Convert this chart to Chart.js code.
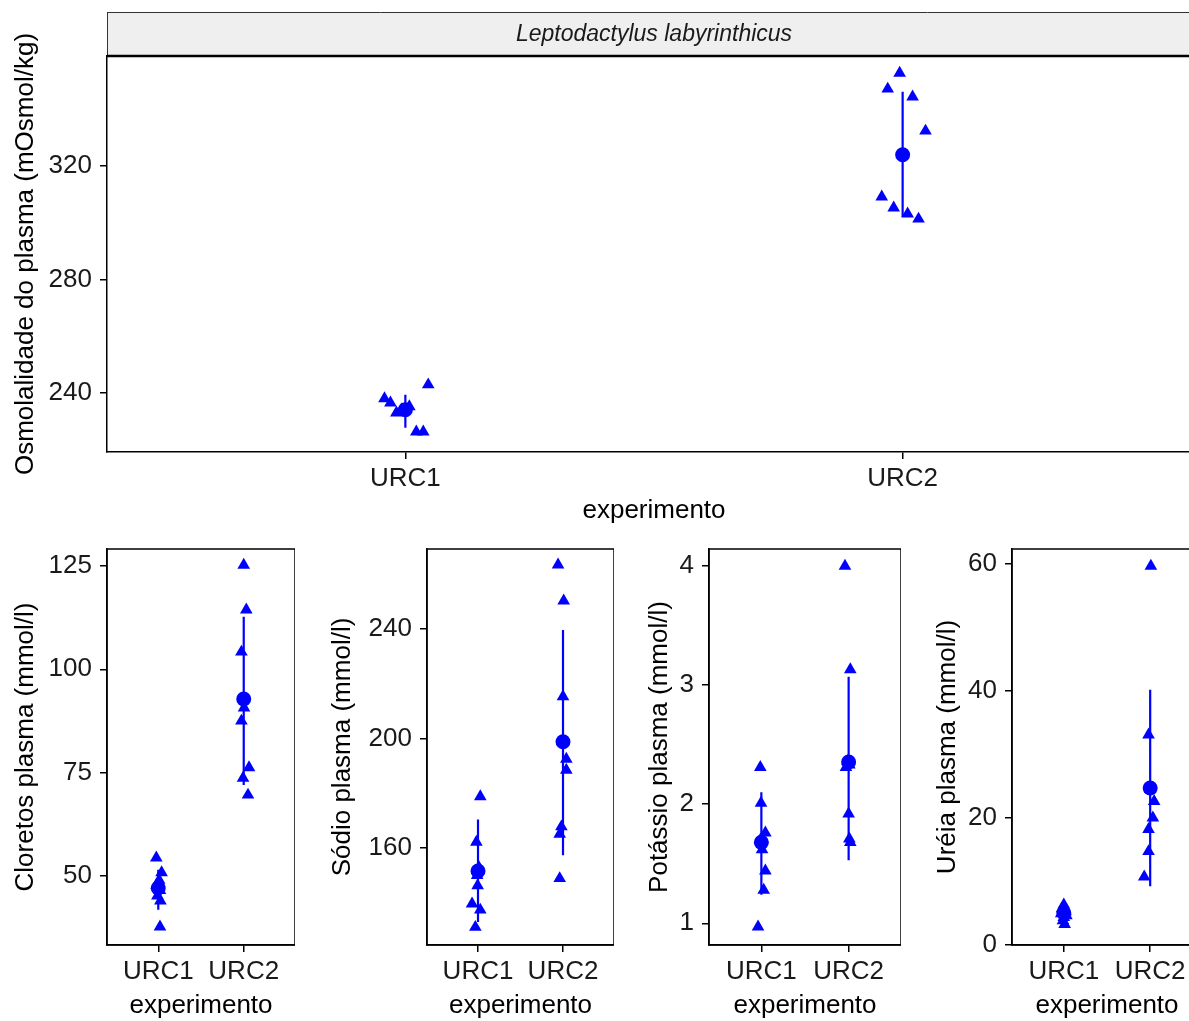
<!DOCTYPE html>
<html>
<head>
<meta charset="utf-8">
<script src="https://cdn.jsdelivr.net/npm/chart.js@4"></script>
<style>
  html, body { margin: 0; padding: 0; background: #fff; overflow: hidden; width: 1189px; height: 1021px; }
  canvas { position: absolute; }
</style>
</head>
<body>
<canvas id="osmo" style="left:0px;top:0px" width="1201" height="530"></canvas>
<canvas id="cloretos" style="left:0px;top:530px" width="295" height="491"></canvas>
<canvas id="sodio" style="left:320px;top:530px" width="294" height="491"></canvas>
<canvas id="potassio" style="left:602px;top:530px" width="299" height="491"></canvas>
<canvas id="ureia" style="left:905px;top:530px" width="297" height="491"></canvas>
<script>
const experimentos = ["URC1", "URC2"];
const especie = "Leptodactylus labyrinthicus";

// Osmolalidade (mOsmol/kg)
const osmoTicks = [240, 280, 320];
const osmoURC1 = [242.9, 238.0, 236.5, 233.0, 234.1, 235.2, 226.3, 226.3];
const osmoJit1 = [0.046, -0.042, -0.030, -0.018, -0.008, 0.008, 0.022, 0.036];
const osmoURC2 = [352.7, 347.1, 344.3, 332.3, 309.1, 305.2, 303.1, 301.3];
const osmoJit2 = [-0.006, -0.030, 0.020, 0.046, -0.042, -0.018, 0.010, 0.032];
const osmoMedia = [234.1, 323.9];
const osmoInf = [227.7, 302.0];
const osmoSup = [239.4, 346.1];

// Cloretos (mmol/l)
const clTicks = [50, 75, 100, 125];
const clURC1 = [54.4, 50.8, 49.0, 47.8, 46.5, 45.2, 44.0, 37.7];
const clJit1 = [-0.023, 0.039, 0.010, -0.020, 0.020, -0.010, 0.025, 0.020];
const clURC2 = [125.2, 114.4, 104.2, 90.7, 87.5, 76.2, 73.7, 69.6];
const clJit2 = [0.000, 0.030, -0.027, 0.004, -0.027, 0.062, -0.008, 0.050];
const clMedia = [47.1, 92.8];
const clInf = [41.8, 72.0];
const clSup = [51.5, 112.7];

// Sódio (mmol/l)
const naTicks = [160, 200, 240];
const naURC1 = [178.8, 162.2, 153.0, 150.0, 146.3, 139.6, 137.4, 131.1];
const naJit1 = [0.027, -0.019, 0.010, -0.010, -0.004, -0.070, 0.027, -0.031];
const naURC2 = [263.4, 250.3, 215.3, 192.5, 188.5, 167.8, 165.1, 148.9];
const naJit2 = [-0.058, 0.008, 0.000, 0.039, 0.039, -0.019, -0.039, -0.039];
const naMedia = [151.6, 198.8];
const naInf = [133.0, 157.4];
const naSup = [170.4, 239.6];

// Potássio (mmol/l)
const kTicks = [1, 2, 3, 4];
const kURC1 = [2.31, 2.01, 1.76, 1.70, 1.62, 1.44, 1.28, 0.97];
const kJit1 = [-0.012, -0.004, 0.046, -0.012, 0.008, 0.046, 0.027, -0.038];
const kURC2 = [4.00, 3.13, 2.36, 2.33, 2.31, 1.92, 1.71, 1.68];
const kJit2 = [-0.042, 0.019, -0.012, 0.008, -0.031, 0.000, 0.008, 0.019];
const kMedia = [1.68, 2.355];
const kInf = [1.24, 1.53];
const kSup = [2.10, 3.07];

// Uréia (mmol/l)
const urTicks = [0, 20, 40, 60];
const urURC1 = [6.3, 5.7, 5.2, 4.9, 4.6, 4.3, 3.8, 3.2];
const urJit1 = [0.000, -0.020, 0.020, -0.030, 0.030, 0.000, -0.010, 0.010];
const urURC2 = [59.7, 33.1, 24.5, 22.6, 20.0, 18.2, 14.7, 10.7];
const urJit2 = [0.008, -0.019, 0.000, 0.046, 0.031, -0.019, -0.019, -0.069];
const urMedia = [5.0, 24.7];
const urInf = [4.0, 9.2];
const urSup = [6.0, 40.2];

const AZUL = "#0000ff";
const FONTE = '"Liberation Sans", Arial, sans-serif';

// caixa em volta do painel (paineis de baixo)
const moldura = {
  id: "moldura",
  afterDraw(chart) {
    const { ctx, chartArea: a } = chart;
    ctx.save();
    ctx.strokeStyle = "#000";
    ctx.lineWidth = 1.5;
    ctx.strokeRect(a.left, a.top, a.right - a.left, a.bottom - a.top);
    ctx.restore();
  }
};

// faixa cinza com o nome da especie (painel de cima)
const faixa = {
  id: "faixa",
  beforeDraw(chart) {
    const { ctx, chartArea: a } = chart;
    const topo = 12;
    ctx.save();
    ctx.fillStyle = "#efefef";
    ctx.fillRect(a.left, topo, a.right - a.left, a.top - topo);
    ctx.strokeStyle = "#333";
    ctx.lineWidth = 1;
    ctx.beginPath();
    ctx.moveTo(a.left, topo + 0.5);
    ctx.lineTo(a.right, topo + 0.5);
    ctx.moveTo(a.left + 0.5, topo);
    ctx.lineTo(a.left + 0.5, a.top);
    ctx.stroke();
    ctx.strokeStyle = "#000";
    ctx.lineWidth = 2.5;
    ctx.beginPath();
    ctx.moveTo(a.left, a.top);
    ctx.lineTo(a.right, a.top);
    ctx.stroke();
    ctx.fillStyle = "#1a1a1a";
    ctx.font = "italic 23px " + FONTE;
    ctx.textAlign = "center";
    ctx.textBaseline = "middle";
    ctx.fillText(especie, (a.left + a.right) / 2, (topo + a.top) / 2 + 1);
    ctx.restore();
  }
};

function painel(id, cfg) {
  const pontos = [];
  cfg.urc1.forEach((v, i) => pontos.push({ x: 1 + cfg.jit1[i], y: v }));
  cfg.urc2.forEach((v, i) => pontos.push({ x: 2 + cfg.jit2[i], y: v }));
  const medias = cfg.media.map((v, i) => ({ x: i + 1, y: v }));
  const barras = [];
  cfg.inf.forEach((v, i) => {
    if (i > 0) barras.push({ x: i + 0.5, y: null });
    barras.push({ x: i + 1, y: v }, { x: i + 1, y: cfg.sup[i] });
  });

  const fonte = { family: FONTE, size: 26, lineHeight: 1.2 };

  return new Chart(document.getElementById(id), {
    type: "scatter",
    data: {
      datasets: [
        { data: barras, showLine: true, borderColor: AZUL, borderWidth: 2.2, pointRadius: 0, spanGaps: false },
        { data: medias, pointStyle: "circle", pointRadius: 7.5, backgroundColor: AZUL, borderWidth: 0 },
        { data: pontos, pointStyle: "triangle", pointRadius: 7.3, backgroundColor: AZUL, borderWidth: 0 }
      ]
    },
    options: {
      responsive: false,
      animation: false,
      layout: { autoPadding: false, padding: { top: cfg.topo, left: 0, right: 0, bottom: 0 } },
      plugins: { legend: { display: false }, tooltip: { enabled: false } },
      scales: {
        x: {
          type: "linear",
          min: 0.4,
          max: 2.6,
          afterBuildTicks: s => { s.ticks = [{ value: 1 }, { value: 2 }]; },
          afterFit: s => { s.height = cfg.altX; s.paddingLeft = 0; s.paddingRight = 0; },
          ticks: { callback: (v, i) => experimentos[i], font: fonte, color: "#1a1a1a", padding: 4, maxRotation: 0 },
          grid: { drawOnChartArea: false, color: "#000", lineWidth: 1.5, tickLength: 7 },
          border: { color: "#000", width: 1.5 },
          title: { display: true, text: "experimento", font: fonte, color: "#000", padding: { top: 0, bottom: cfg.tituloX } }
        },
        y: {
          min: cfg.min,
          max: cfg.max,
          afterBuildTicks: s => { s.ticks = cfg.ticks.map(v => ({ value: v })); },
          afterFit: s => { s.width = 107; s.paddingTop = 0; s.paddingBottom = 0; },
          ticks: { font: fonte, color: "#1a1a1a", padding: 8 },
          grid: { drawOnChartArea: false, color: "#000", lineWidth: 1.5, tickLength: 7 },
          border: { color: "#000", width: 1.5 },
          title: { display: true, text: cfg.titulo, font: fonte, color: "#000", padding: { top: cfg.tituloY, bottom: 0 } }
        }
      }
    },
    plugins: cfg.extra
  });
}

painel("osmo", {
  titulo: "Osmolalidade do plasma (mOsmol/kg)",
  urc1: osmoURC1, jit1: osmoJit1, urc2: osmoURC2, jit2: osmoJit2,
  media: osmoMedia, inf: osmoInf, sup: osmoSup, ticks: osmoTicks,
  min: 219.2, max: 358.7, topo: 56, altX: 78, tituloX: 4, tituloY: 10, extra: [faixa]
});
painel("cloretos", {
  titulo: "Cloretos plasma (mmol/l)",
  urc1: clURC1, jit1: clJit1, urc2: clURC2, jit2: clJit2,
  media: clMedia, inf: clInf, sup: clSup, ticks: clTicks,
  min: 33.3, max: 129.1, topo: 19, altX: 76, tituloX: 0, tituloY: 10, extra: [moldura]
});
painel("sodio", {
  titulo: "Sódio plasma (mmol/l)",
  urc1: naURC1, jit1: naJit1, urc2: naURC2, jit2: naJit2,
  media: naMedia, inf: naInf, sup: naSup, ticks: naTicks,
  min: 124.6, max: 269.2, topo: 19, altX: 76, tituloX: 0, tituloY: 7, extra: [moldura]
});
painel("potassio", {
  titulo: "Potássio plasma (mmol/l)",
  urc1: kURC1, jit1: kJit1, urc2: kURC2, jit2: kJit2,
  media: kMedia, inf: kInf, sup: kSup, ticks: kTicks,
  min: 0.818, max: 4.143, topo: 19, altX: 76, tituloX: 0, tituloY: 42, extra: [moldura]
});
painel("ureia", {
  titulo: "Uréia plasma (mmol/l)",
  urc1: urURC1, jit1: urJit1, urc2: urURC2, jit2: urJit2,
  media: urMedia, inf: urInf, sup: urSup, ticks: urTicks,
  min: -0.05, max: 62.4, topo: 19, altX: 76, tituloX: 0, tituloY: 27, extra: [moldura]
});
</script>
</body>
</html>
